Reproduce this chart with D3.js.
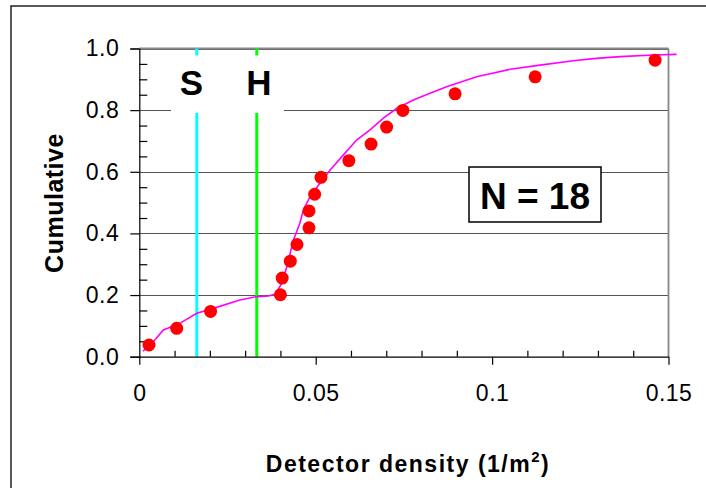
<!DOCTYPE html>
<html><head><meta charset="utf-8">
<script src="https://cdn.jsdelivr.net/npm/d3@7"></script>
<style>
html,body{margin:0;padding:0;background:#fff;}
svg{display:block;font-family:"Liberation Sans",Arial,sans-serif;}
</style></head>
<body>
<svg id="chart" width="706" height="488"></svg>
<script>
// ---- data ----
const pointX = [0.00275,0.0106,0.0202,0.0400,0.0405,0.0428,0.0447,0.0481,0.0481,0.0497,0.0515,0.0594,0.0657,0.0701,0.0747,0.0895,0.1122,0.1462];
const pointY = [0.038,0.092,0.147,0.201,0.255,0.310,0.364,0.418,0.473,0.527,0.582,0.636,0.690,0.745,0.799,0.853,0.908,0.962];
const curveX = [0.001,0.003,0.0068,0.0110,0.0163,0.0219,0.0285,0.0333,0.0366,0.0385,0.0404,0.0418,0.0437,0.0455,0.0465,0.0484,0.0512,0.0541,0.0578,0.0616,0.0654,0.0692,0.0730,0.0777,0.0824,0.0871,0.0956,0.1051,0.1136,0.1230,0.1296,0.1363,0.1457,0.1523];
const curveY = [0.018,0.035,0.087,0.105,0.141,0.160,0.184,0.195,0.197,0.203,0.238,0.292,0.379,0.433,0.476,0.519,0.563,0.606,0.654,0.703,0.736,0.774,0.806,0.833,0.855,0.876,0.9085,0.9325,0.946,0.9605,0.968,0.9735,0.979,0.981];
const markerNames = ["S","H"];
const markerValues = [0.0163,0.0333];
const markerColors = ["#00ffff","#00ff00"];
const xTickValues = [0,0.05,0.1,0.15];
const xTickLabels = ["0","0.05","0.1","0.15"];
const yTickValues = [0,0.2,0.4,0.6,0.8,1.0];
const yTickLabels = ["0.0","0.2","0.4","0.6","0.8","1.0"];
const xTitle = "Detector density (1/m";
const yTitle = "Cumulative";
const nLabel = "N = 18";

// ---- layout ----
const svg = d3.select("#chart");
const L = 139.3, R = 668.5, T = 48.5, B = 356.7;
const x = d3.scaleLinear().domain([0,0.15]).range([L,R]);
const y = d3.scaleLinear().domain([0,1]).range([B,T]);

// outer frame
svg.append("rect").attr("x",11).attr("y",6).attr("width",720).attr("height",500)
  .attr("fill","none").attr("stroke","#222").attr("stroke-width",1.5);

// gridlines
svg.append("g").selectAll("line").data(yTickValues.filter(v=>v>0)).join("line")
  .attr("x1",L).attr("x2",R).attr("y1",d=>Math.round(y(d))+0.5).attr("y2",d=>Math.round(y(d))+0.5)
  .attr("stroke","#555").attr("stroke-width",1);
// plot border top / right
svg.append("line").attr("x1",R).attr("x2",R).attr("y1",T).attr("y2",B).attr("stroke","#888").attr("stroke-width",1.8);
svg.append("line").attr("x1",L).attr("x2",R).attr("y1",T).attr("y2",T).attr("stroke","#888").attr("stroke-width",1.8);

// marker vertical lines
markerValues.forEach((v,i)=>{
  svg.append("line").attr("x1",x(v)).attr("x2",x(v)).attr("y1",y(1)).attr("y2",y(0))
    .attr("stroke",markerColors[i]).attr("stroke-width",3);
});
// white label box for S / H
svg.append("rect").attr("x",171).attr("y",55.5).attr("width",113).attr("height",57.5).attr("fill","#fff");
const labelShift = [-5.5, 2];
markerValues.forEach((v,i)=>{
  svg.append("text").attr("x",x(v)+labelShift[i]).attr("y",95).attr("text-anchor","middle")
    .attr("font-size",35).attr("font-weight","bold").attr("fill","#000").text(markerNames[i]);
});

// axes
const yMinor = d3.range(0,1.0001,0.05).filter(v=>Math.abs(v*5-Math.round(v*5))>1e-6);
const xMinor = d3.range(0,0.15001,0.01).filter(v=>Math.abs(v*20-Math.round(v*20))>1e-6);

const yAxisMajor = d3.axisLeft(y).tickValues(yTickValues).tickFormat((d,i)=>yTickLabels[i]).tickSize(9).tickPadding(11);
const gy = svg.append("g").attr("transform",`translate(${L},0)`).call(yAxisMajor);
gy.selectAll("text").attr("font-size",23).attr("fill","#000").attr("font-family","Liberation Sans, Arial, sans-serif").attr("letter-spacing","0.5px");
gy.selectAll("line,path").attr("stroke","#000").attr("stroke-width",1.2);
const yAxisMinor = d3.axisRight(y).tickValues(yMinor).tickFormat("").tickSize(8).tickSizeOuter(0);
const gy2 = svg.append("g").attr("transform",`translate(${L},0)`).call(yAxisMinor);
gy2.select("path").remove();
gy2.selectAll("line").attr("stroke","#000").attr("stroke-width",1.2);

const xAxisMajor = d3.axisBottom(x).tickValues(xTickValues).tickFormat((d,i)=>xTickLabels[i]).tickSize(8).tickPadding(20).tickSizeOuter(0);
const gx = svg.append("g").attr("transform",`translate(0,${B})`).call(xAxisMajor);
gx.selectAll("text").attr("font-size",23).attr("fill","#000").attr("font-family","Liberation Sans, Arial, sans-serif").attr("letter-spacing","0.5px");
gx.selectAll("line,path").attr("stroke","#000").attr("stroke-width",1.2);
const xAxisMinor = d3.axisTop(x).tickValues(xMinor).tickFormat("").tickSize(6).tickSizeOuter(0);
const gx2 = svg.append("g").attr("transform",`translate(0,${B})`).call(xAxisMinor);
gx2.select("path").remove();
gx2.selectAll("line").attr("stroke","#000").attr("stroke-width",1.2);

// curve
const curveData = curveX.map((v,i)=>[v,curveY[i]]);
svg.append("path").datum(curveData)
  .attr("d",d3.line().x(d=>x(d[0])).y(d=>y(d[1])))
  .attr("fill","none").attr("stroke","#ff00ff").attr("stroke-width",1.6);

// points
svg.append("g").selectAll("circle").data(pointX.map((v,i)=>[v,pointY[i]])).join("circle")
  .attr("cx",d=>x(d[0])).attr("cy",d=>y(d[1])).attr("r",6.5).attr("fill","#ff0000");

// N box
svg.append("rect").attr("x",469).attr("y",167).attr("width",132).attr("height",55)
  .attr("fill","#fff").attr("stroke","#000").attr("stroke-width",1.5);
svg.append("text").attr("x",535).attr("y",208.5).attr("text-anchor","middle")
  .attr("font-size",37).attr("font-weight","bold").text(nLabel);

// titles
const xt = svg.append("text").attr("x",408).attr("y",472).attr("text-anchor","middle")
  .attr("font-size",23).attr("font-weight","bold").attr("letter-spacing","1.5px");
xt.append("tspan").text(xTitle);
xt.append("tspan").attr("dy",-10).attr("font-size",15).text("2");
xt.append("tspan").attr("dy",10).text(")");

svg.append("text").attr("transform","translate(63,203) rotate(-90)").attr("text-anchor","middle")
  .attr("font-size",25).attr("font-weight","bold").attr("letter-spacing","0.5px").text(yTitle);
</script>
</body></html>
